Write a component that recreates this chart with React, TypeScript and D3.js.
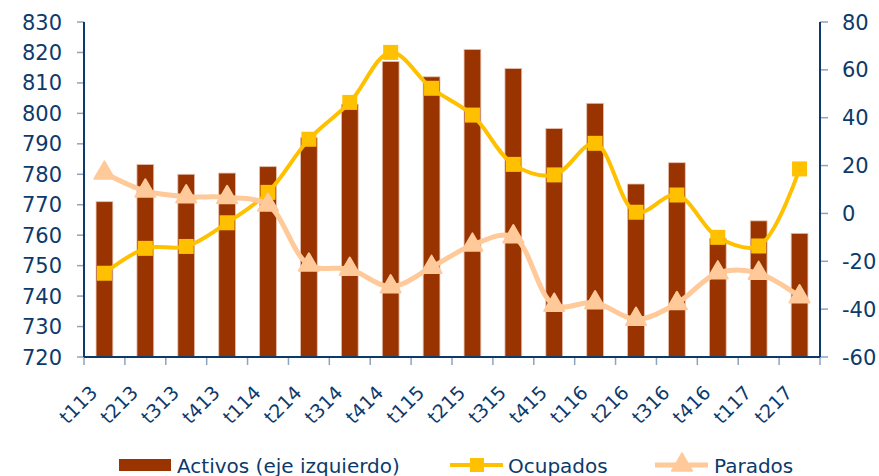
import { useEffect, useRef } from "react";
import * as d3 from "d3";

// Trimestres
const TRIMESTRES = [
  "t113", "t213", "t313", "t413", "t114", "t214", "t314", "t414", "t115",
  "t215", "t315", "t415", "t116", "t216", "t316", "t416", "t117", "t217",
];

// Activos (eje izquierdo)
const ACTIVOS = [
  771, 783.2, 780, 780.4, 782.5, 792, 803, 817, 812,
  821, 814.7, 795, 803.3, 776.8, 783.8, 759, 764.7, 760.6,
];

// Ocupados (eje derecho)
const OCUPADOS = [
  -25, -14.6, -13.8, -3.9, 8.8, 31, 46.4, 67.3, 52.3,
  41.1, 20.5, 16.1, 29.3, 0.5, 7.7, -10, -13.6, 18.6,
];

// Parados (eje derecho)
const PARADOS = [
  16.9, 9.4, 7, 6.7, 3.5, -21.5, -23.3, -30.6, -22.5,
  -13.2, -9.7, -38.3, -37.3, -44.2, -37.6, -24.8, -25, -34.8,
];

const TICKS_IZQ = [720, 730, 740, 750, 760, 770, 780, 790, 800, 810, 820, 830];
const TICKS_DER = [-60, -40, -20, 0, 20, 40, 60, 80];

const AZUL = "#0c3a6b";
const TICK_GRIS = "#8fa3bd";
const MARRON = "#993300";
const ORO = "#ffc000";
const MELOCOTON = "#ffc999";
const FUENTE = "'DejaVu Sans', Verdana, sans-serif";

const App = () => {
  const svgRef = useRef<SVGSVGElement>(null);

  useEffect(() => {
    if (!svgRef.current) return;
    const width = 879;
    const height = 476;
    const svg = d3.select(svgRef.current);
    svg.selectAll("*").remove();

    const margin = { top: 22, right: 59, bottom: 119, left: 84 };
    const innerWidth = width - margin.left - margin.right;
    const innerHeight = height - margin.top - margin.bottom;

    const g = svg.append("g").attr("transform", `translate(${margin.left},${margin.top})`);

    const xScale = d3.scaleBand().domain(TRIMESTRES).range([0, innerWidth]).padding(0);
    const yIzq = d3.scaleLinear().domain([720, 830]).range([innerHeight, 0]);
    const yDer = d3.scaleLinear().domain([-60, 80]).range([innerHeight, 0]);
    const cx = (t: string) => (xScale(t) ?? 0) + xScale.bandwidth() / 2;

    // Barras
    const barW = xScale.bandwidth() * 0.41;
    g.append("g")
      .selectAll("rect")
      .data(TRIMESTRES)
      .enter()
      .append("rect")
      .attr("x", (d) => cx(d) - barW / 2)
      .attr("width", barW)
      .attr("y", (_d, i) => yIzq(ACTIVOS[i]))
      .attr("height", (_d, i) => innerHeight - yIzq(ACTIVOS[i]))
      .attr("fill", MARRON)
      .attr("stroke", "#e6bfae")
      .attr("stroke-width", 0.8);

    // Eje izquierdo
    const ejeIzq = g.append("g");
    ejeIzq
      .selectAll("line")
      .data(TICKS_IZQ)
      .enter()
      .append("line")
      .attr("x1", -7)
      .attr("x2", 0)
      .attr("y1", (d) => yIzq(d))
      .attr("y2", (d) => yIzq(d))
      .attr("stroke", TICK_GRIS)
      .attr("stroke-width", 1.5);
    ejeIzq
      .selectAll("text")
      .data(TICKS_IZQ)
      .enter()
      .append("text")
      .attr("x", -22)
      .attr("y", (d) => yIzq(d) + 7.5)
      .attr("text-anchor", "end")
      .style("font-family", FUENTE)
      .style("font-size", "21px")
      .attr("fill", AZUL)
      .text((d) => d);
    ejeIzq
      .append("line")
      .attr("x1", 0)
      .attr("x2", 0)
      .attr("y1", 0)
      .attr("y2", innerHeight)
      .attr("stroke", AZUL)
      .attr("stroke-width", 2);

    // Eje derecho
    const ejeDer = g.append("g").attr("transform", `translate(${innerWidth},0)`);
    ejeDer
      .selectAll("line")
      .data(TICKS_DER)
      .enter()
      .append("line")
      .attr("x1", 0)
      .attr("x2", 8)
      .attr("y1", (d) => yDer(d))
      .attr("y2", (d) => yDer(d))
      .attr("stroke", TICK_GRIS)
      .attr("stroke-width", 1.5);
    ejeDer
      .selectAll("text")
      .data(TICKS_DER)
      .enter()
      .append("text")
      .attr("x", 22)
      .attr("y", (d) => yDer(d) + 7.5)
      .attr("text-anchor", "start")
      .style("font-family", FUENTE)
      .style("font-size", "21px")
      .attr("fill", AZUL)
      .text((d) => d);
    ejeDer
      .append("line")
      .attr("x1", 0)
      .attr("x2", 0)
      .attr("y1", 0)
      .attr("y2", innerHeight)
      .attr("stroke", AZUL)
      .attr("stroke-width", 2);

    // Eje X
    const ejeX = g.append("g").attr("transform", `translate(0,${innerHeight})`);
    const fronteras = TRIMESTRES.map((t) => xScale(t) ?? 0).concat([innerWidth]);
    ejeX
      .selectAll("line.tick")
      .data(fronteras)
      .enter()
      .append("line")
      .attr("class", "tick")
      .attr("x1", (d) => d)
      .attr("x2", (d) => d)
      .attr("y1", 0)
      .attr("y2", 8)
      .attr("stroke", TICK_GRIS)
      .attr("stroke-width", 1.5);
    ejeX
      .append("line")
      .attr("x1", 0)
      .attr("x2", innerWidth)
      .attr("stroke", AZUL)
      .attr("stroke-width", 2);
    ejeX
      .selectAll("text")
      .data(TRIMESTRES)
      .enter()
      .append("text")
      .attr("transform", (d) => `translate(${cx(d) - 6},${37}) rotate(-45)`)
      .attr("text-anchor", "end")
      .style("font-family", FUENTE)
      .style("font-size", "19px")
      .attr("fill", AZUL)
      .text((d) => d);

    // Lineas
    const curva = d3.curveCatmullRom.alpha(0.5);
    const linea = d3
      .line<number>()
      .x((_d, i) => cx(TRIMESTRES[i]))
      .y((d) => yDer(d))
      .curve(curva);

    g.append("path")
      .datum(OCUPADOS)
      .attr("fill", "none")
      .attr("stroke", ORO)
      .attr("stroke-width", 4)
      .attr("d", linea);

    g.append("g")
      .selectAll("rect")
      .data(OCUPADOS)
      .enter()
      .append("rect")
      .attr("x", (_d, i) => cx(TRIMESTRES[i]) - 7.5)
      .attr("y", (d) => yDer(d) - 7.5)
      .attr("width", 15)
      .attr("height", 15)
      .attr("fill", ORO);

    g.append("path")
      .datum(PARADOS)
      .attr("fill", "none")
      .attr("stroke", MELOCOTON)
      .attr("stroke-width", 5)
      .attr("d", linea);

    const triangulo = d3.symbol().type(d3.symbolTriangle).size(175);
    g.append("g")
      .selectAll("path")
      .data(PARADOS)
      .enter()
      .append("path")
      .attr("transform", (d, i) => `translate(${cx(TRIMESTRES[i])},${yDer(d)})`)
      .attr("d", triangulo)
      .attr("fill", MELOCOTON)
      .attr("stroke", MELOCOTON)
      .attr("stroke-width", 2)
      .attr("stroke-linejoin", "round");

    // Leyenda
    const ley = svg.append("g").attr("transform", `translate(0,465)`);
    ley.append("rect")
      .attr("x", 119)
      .attr("y", -6)
      .attr("width", 52)
      .attr("height", 12)
      .attr("fill", MARRON);
    ley.append("text")
      .attr("x", 177)
      .attr("y", 7.5)
      .style("font-family", FUENTE)
      .style("font-size", "20px")
      .attr("fill", AZUL)
      .text("Activos (eje izquierdo)");

    ley.append("line")
      .attr("x1", 450)
      .attr("x2", 503)
      .attr("stroke", ORO)
      .attr("stroke-width", 4);
    ley.append("rect")
      .attr("x", 477 - 7)
      .attr("y", -7)
      .attr("width", 14)
      .attr("height", 14)
      .attr("fill", ORO);
    ley.append("text")
      .attr("x", 508)
      .attr("y", 7.5)
      .style("font-family", FUENTE)
      .style("font-size", "20px")
      .attr("fill", AZUL)
      .text("Ocupados");

    ley.append("line")
      .attr("x1", 655)
      .attr("x2", 708)
      .attr("stroke", MELOCOTON)
      .attr("stroke-width", 5);
    ley.append("path")
      .attr("transform", "translate(682,0)")
      .attr("d", triangulo)
      .attr("fill", MELOCOTON)
      .attr("stroke", MELOCOTON)
      .attr("stroke-width", 2)
      .attr("stroke-linejoin", "round");
    ley.append("text")
      .attr("x", 714)
      .attr("y", 7.5)
      .style("font-family", FUENTE)
      .style("font-size", "20px")
      .attr("fill", AZUL)
      .text("Parados");
  }, []);

  return (
    <svg
      ref={svgRef}
      width={879}
      height={476}
      style={{ position: "absolute", left: 0, top: 0, background: "#fff" }}
    />
  );
};

export default App;
